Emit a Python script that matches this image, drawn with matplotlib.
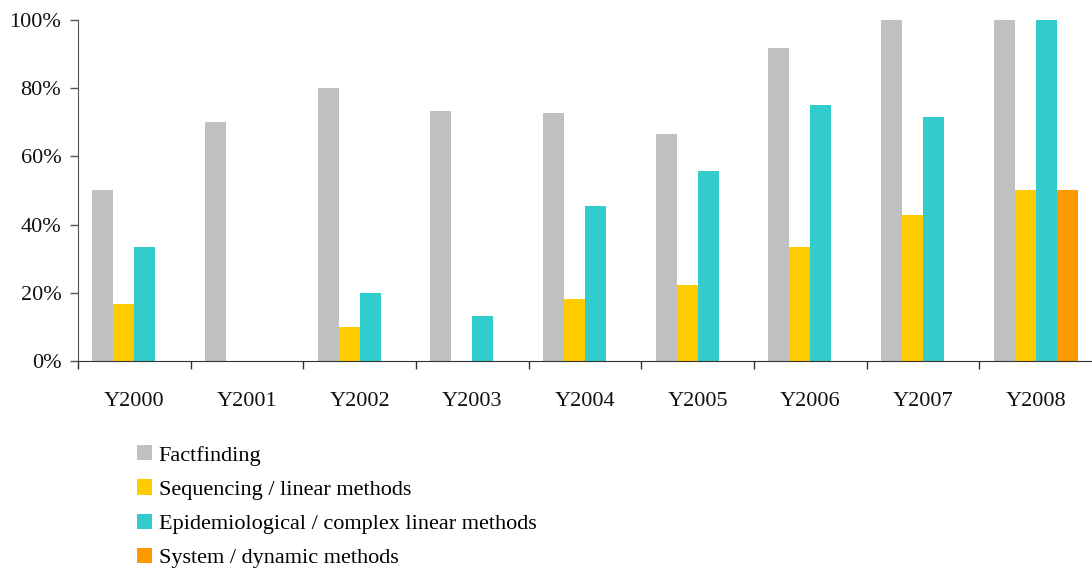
import numpy as np
import matplotlib.pyplot as plt
from matplotlib.patches import Patch
from matplotlib.ticker import FixedLocator, PercentFormatter

plt.rcParams['font.family'] = ['Liberation Serif', 'DejaVu Serif']

years = ['Y2000', 'Y2001', 'Y2002', 'Y2003', 'Y2004', 'Y2005', 'Y2006', 'Y2007', 'Y2008']
series = ['Factfinding', 'Sequencing / linear methods',
          'Epidemiological / complex linear methods', 'System / dynamic methods']
factfinding = [50.0, 70.0, 80.0, 73.3, 72.7, 66.7, 91.7, 100.0, 100.0]
sequencing = [16.7, 0, 10.0, 0, 18.2, 22.2, 33.3, 42.9, 50.0]
epidemiological = [33.3, 0, 20.0, 13.3, 45.5, 55.6, 75.0, 71.4, 100.0]
system_dynamic = [0, 0, 0, 0, 0, 0, 0, 0, 50.0]
colors = ['#c0c0c0', '#ffcc00', '#33cccc', '#ff9900']

fig = plt.figure(figsize=(10.92, 5.70), dpi=100)
ax = fig.add_axes([0.0714, 0.3667, 0.9286, 0.5983])

x = np.arange(len(years)) + 0.5
w = 0.186
for k, vals in enumerate([factfinding, sequencing, epidemiological, system_dynamic]):
    ax.bar(x + (k - 1.5) * w, vals, width=w, color=colors[k], linewidth=0)

ax.set_xlim(0, len(years))
ax.set_ylim(0, 100)
ax.yaxis.set_major_locator(FixedLocator([0, 20, 40, 60, 80, 100]))
ax.yaxis.set_major_formatter(PercentFormatter(decimals=0))

# labels at group centres, tick marks between groups
ax.set_xticks(x)
ax.set_xticklabels(years)
ax.set_xticks(np.arange(len(years)), minor=True)
ax.tick_params(axis='x', which='major', length=0, pad=22, labelsize=16, colors='#111111')
ax.tick_params(axis='x', which='minor', length=6, width=1, color='#333333', direction='out')
ax.tick_params(axis='y', length=6, width=1, color='#555555', labelsize=16, pad=6,
               labelcolor='#111111')

for s in ['top', 'right']:
    ax.spines[s].set_visible(False)
ax.spines['left'].set_color('#555555')
ax.spines['bottom'].set_color('#333333')

handles = [Patch(facecolor=c, edgecolor='none') for c in colors]
fig.legend(handles, series, loc='upper left', bbox_to_anchor=(0.1255, 0.219),
           frameon=False, fontsize=16, handlelength=0.68, handleheight=0.68,
           handletextpad=0.3, labelspacing=0.62, borderaxespad=0, borderpad=0)

fig.savefig('out.png', dpi=100)
